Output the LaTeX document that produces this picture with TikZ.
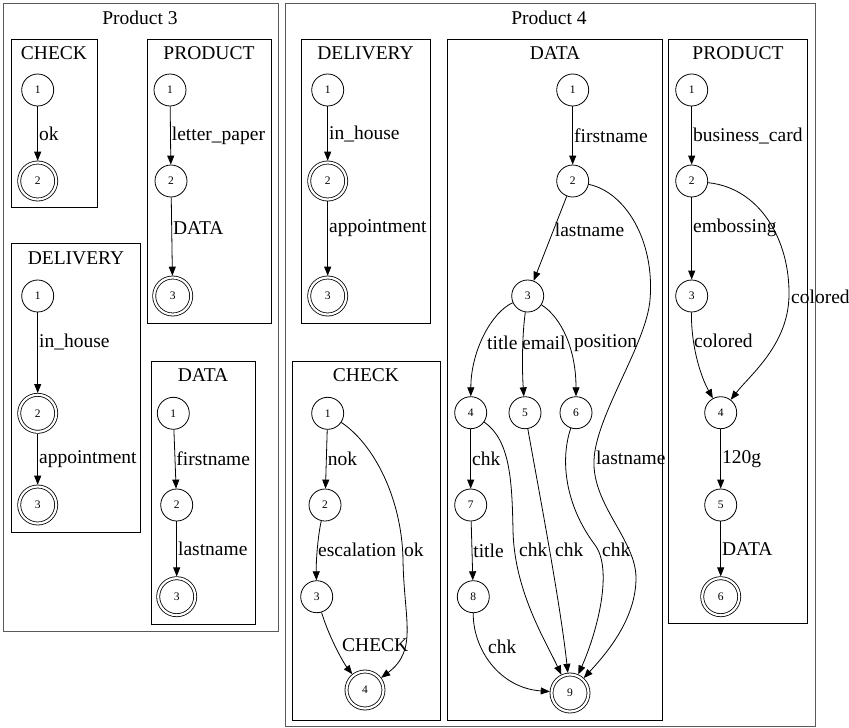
\documentclass[tikz,border=0pt]{standalone}
\usepackage{fontspec}
\setmainfont{Liberation Serif}
\usetikzlibrary{arrows.meta}
\tikzset{
    state/.style={
        draw,circle,line width=0.8pt,minimum size=32pt,inner sep=0pt,
        font=\fontsize{11.5}{12}\selectfont
    },
    final/.style={
        state,double,double distance=2.2pt,minimum size=37pt,outer sep=1.8pt
    },
    trans/.style={
        -{Triangle[length=9pt,width=7pt]},line width=0.8pt
    },
    lab/.style={anchor=west,inner sep=1pt,font=\fontsize{19.5}{20}\selectfont},
    ctitle/.style={inner sep=1pt,font=\fontsize{19.5}{20}\selectfont},
    cbox/.style={draw,line width=0.8pt},
    pbox/.style={draw=black!65,line width=1pt}
}
\begin{document}
\begin{tikzpicture}[x=1pt,y=-1pt]
\useasboundingbox (0,0) rectangle (849,728);

% products
\draw[pbox] (3,3) rectangle (278,631);
\node[ctitle] (p3) at (140,18) {Product 3};
\draw[pbox] (285,3) rectangle (815,726);
\node[ctitle] (p4) at (549,18) {Product 4};

% ---- Product 3 ----
\draw[cbox] (11,39) rectangle (97,207);
\node[ctitle] (p3check) at (54,53) {CHECK};
\node[state] (a1) at (37.7,90) {1};
\node[final] (a2) at (37.7,181) {2};
\draw[trans] (a1) -- node[lab] {ok} (a2);

\draw[cbox] (147,39) rectangle (271,323);
\node[ctitle] (p3prod) at (209,53) {PRODUCT};
\node[state] (b1) at (170,90) {1};
\node[state] (b2) at (171,181) {2};
\node[final] (b3) at (172.7,296) {3};
\draw[trans] (b1) -- node[lab] {letter\_paper} (b2);
\draw[trans] (b2) -- node[lab,pos=0.39] {DATA} (b3);

\draw[cbox] (11,243) rectangle (140,532);
\node[ctitle] (p3deli) at (76,258) {DELIVERY};
\node[state] (e1) at (37.7,296) {1};
\node[final] (e2) at (37.7,413.3) {2};
\node[final] (e3) at (37.7,505) {3};
\draw[trans] (e1) -- node[lab,pos=0.37] {in\_house} (e2);
\draw[trans] (e2) -- node[lab] {appointment} (e3);

\draw[cbox] (151,361) rectangle (255,624);
\node[ctitle] (p3data) at (203,375) {DATA};
\node[state] (f1) at (173.3,413.3) {1};
\node[state] (f2) at (176.7,505) {2};
\node[final] (f3) at (176.7,596.7) {3};
\draw[trans] (f1) -- node[lab] {firstname} (f2);
\draw[trans] (f2) -- node[lab] {lastname} (f3);

% ---- Product 4 ----
\draw[cbox] (301,39) rectangle (430,323);
\node[ctitle] (p4deli) at (365.5,53) {DELIVERY};
\node[state] (g1) at (327.7,90) {1};
\node[final] (g2) at (327.7,181) {2};
\node[final] (g3) at (327.7,296) {3};
\draw[trans] (g1) -- node[lab] {in\_house} (g2);
\draw[trans] (g2) -- node[lab,pos=0.36] {appointment} (g3);

\draw[cbox] (292,361) rectangle (440,720);
\node[ctitle] (p4check) at (366,375) {CHECK};
\node[state] (c1) at (327.7,413.3) {1};
\node[state] (c2) at (325,505) {2};
\node[state] (c3) at (316.7,596.7) {3};
\node[final] (c4) at (365,690) {4};
\draw[trans] (c1) -- node[lab] {nok} (c2);
\draw[trans] (c2) .. controls (318,535) and (316,560) .. (c3);
\draw[trans] (c3) .. controls (330,640) and (345,665) .. (c4);
\draw[trans] (c1) .. controls (375,445) and (402,500) .. (403,560)
    .. controls (404,620) and (418,650) .. (c4);
\node[lab] (lesc) at (317,550) {escalation};
\node[lab] (lck) at (341,645) {CHECK};
\node[lab] (lok) at (403,550) {ok};

\draw[cbox] (447,39) rectangle (662,720);
\node[ctitle] (p4data) at (555,53) {DATA};
\node[state] (d1) at (572.7,90) {1};
\node[state] (d2) at (572.7,181) {2};
\node[state] (d3) at (527.7,296) {3};
\node[state] (d4) at (470.7,412.7) {4};
\node[state] (d5) at (525,412.7) {5};
\node[state] (d6) at (576,412.7) {6};
\node[state] (d7) at (470.7,505) {7};
\node[state] (d8) at (473.3,596.7) {8};
\node[final] (d9) at (570,693) {9};
\draw[trans] (d1) -- node[lab] {firstname} (d2);
\draw[trans] (d2) -- node[lab,pos=0.4] {lastname} (d3);
\draw[trans] (d3) .. controls (492,312) and (471,350) .. (d4);
\draw[trans] (d3) .. controls (522,335) and (522,370) .. (d5);
\draw[trans] (d3) .. controls (562,318) and (576,350) .. (d6);
\draw[trans] (d4) -- node[lab] {chk} (d7);
\draw[trans] (d7) -- node[lab] {title} (d8);
\draw[trans] (d4) .. controls (510,440) and (512,480) .. (513,530)
    .. controls (514,590) and (545,640) .. (d9);
\draw[trans] (d5) .. controls (535,470) and (560,600) .. (d9);
\draw[trans] (d6) .. controls (560,460) and (565,505) .. (595,545)
    .. controls (613,569) and (598,630) .. (d9);
\draw[trans] (d8) .. controls (473,650) and (500,688) .. (d9);
\draw[trans] (d2) .. controls (625,192) and (655,240) .. (650,300)
    .. controls (646,345) and (596,415) .. (594,460)
    .. controls (592,505) and (636,540) .. (636,578)
    .. controls (636,620) and (605,655) .. (d9);
\node[lab] (ltitle) at (486,343) {title};
\node[lab] (lemail) at (521,343) {email};
\node[lab] (lpos) at (573,343) {position};
\node[lab] (lchka) at (518,550) {chk};
\node[lab] (lchkb) at (554,550) {chk};
\node[lab] (lchkc) at (601,550) {chk};
\node[lab] (lchkd) at (487,647) {chk};
\node[lab] (llast) at (595,458) {lastname};

\draw[cbox] (668,39) rectangle (807,623);
\node[ctitle] (p4prod) at (738,53) {PRODUCT};
\node[state] (r1) at (691.7,90) {1};
\node[state] (r2) at (691.7,181) {2};
\node[state] (r3) at (691.7,296) {3};
\node[state] (r4) at (720.7,412.7) {4};
\node[state] (r5) at (720.7,505) {5};
\node[final] (r6) at (720.7,596.7) {6};
\draw[trans] (r1) -- node[lab] {business\_card} (r2);
\draw[trans] (r2) -- node[lab,pos=0.37] {embossing} (r3);
\draw[trans] (r3) .. controls (691,345) and (700,375) .. (r4);
\draw[trans] (r2) .. controls (760,188) and (790,240) .. (789,296)
    .. controls (788,345) and (750,375) .. (r4);
\draw[trans] (r4) -- node[lab] {120g} (r5);
\draw[trans] (r5) -- node[lab] {DATA} (r6);
\node[lab] (lcol) at (693,341) {colored};
\node[lab] (lcolb) at (790,297) {colored};

\end{tikzpicture}
\end{document}
